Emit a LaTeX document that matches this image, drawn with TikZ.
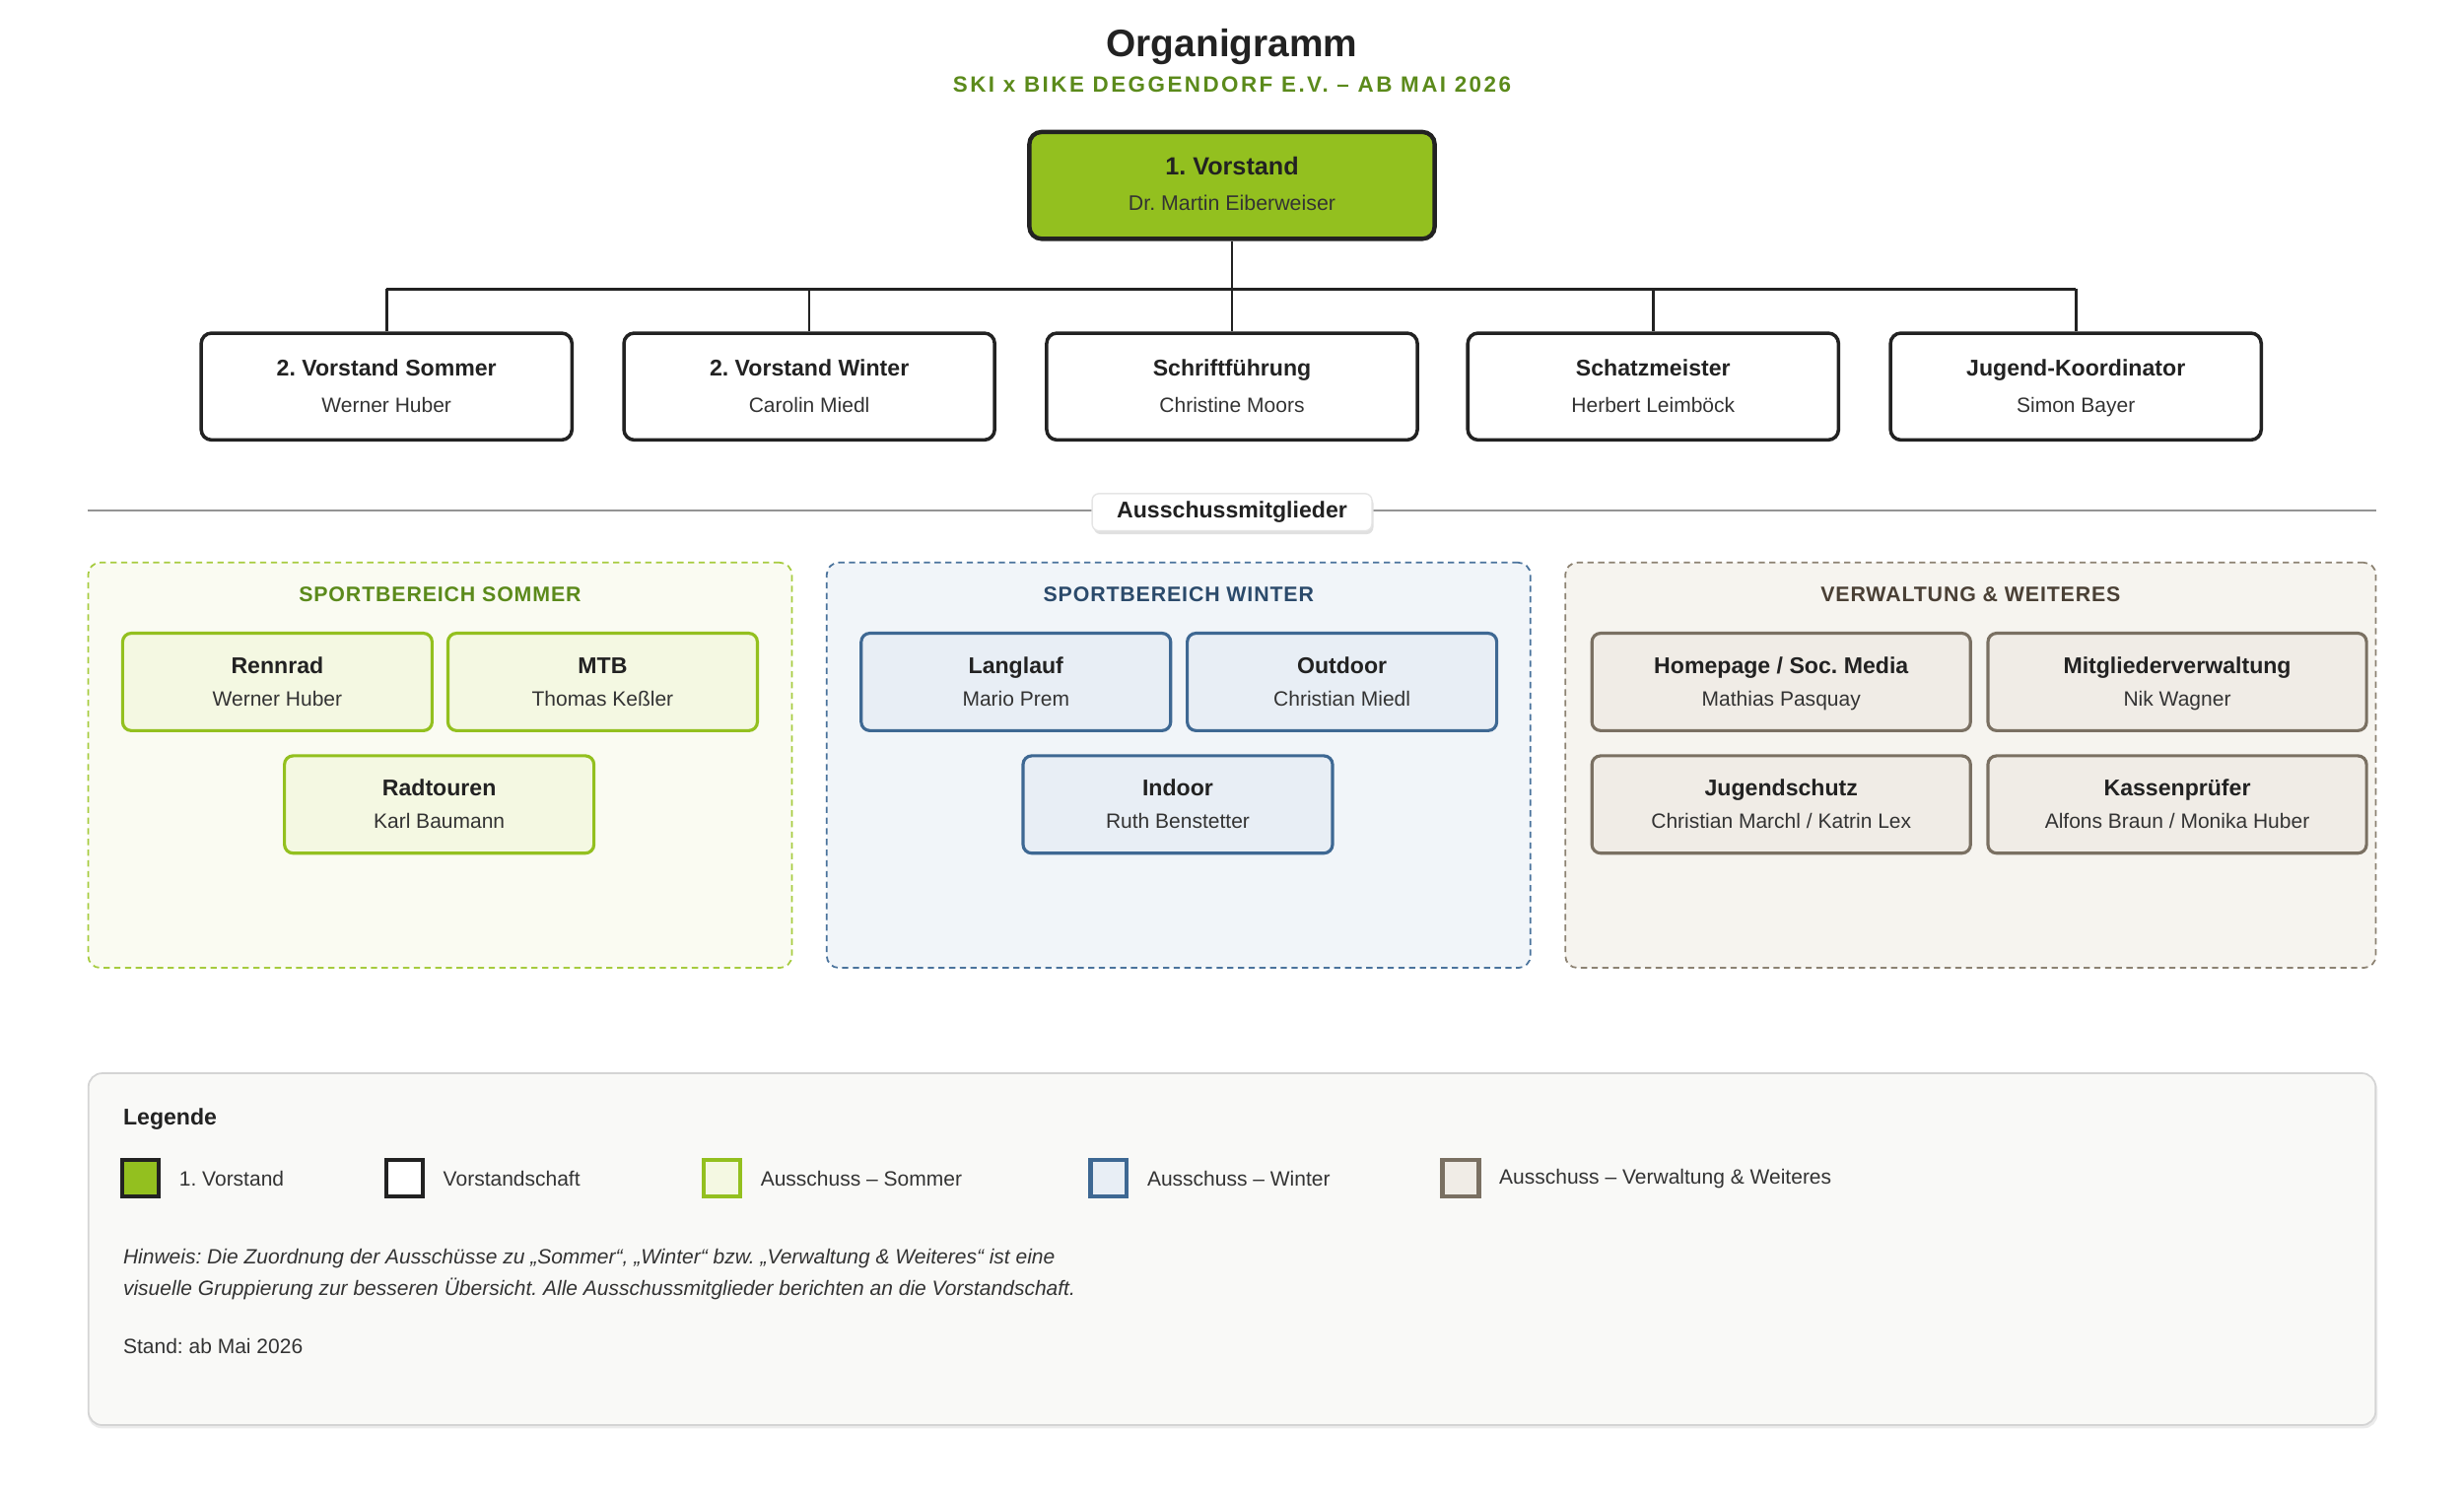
\documentclass[tikz,border=0pt]{standalone}
\usepackage{fontspec}
\setmainfont{Liberation Sans}
\newfontfamily\spacedfont[LetterSpace=11]{Liberation Sans}
\newfontfamily\headfont[LetterSpace=4]{Liberation Sans}
\usetikzlibrary{positioning}
\frenchspacing

\definecolor{vgreen}{HTML}{93C01F}
\definecolor{vdark}{HTML}{222222}
\definecolor{vtext}{HTML}{333333}
\definecolor{subgreen}{HTML}{5B8A1B}
\definecolor{sumbg}{HTML}{FAFBF2}
\definecolor{sumdash}{HTML}{A6CB3E}
\definecolor{sumfill}{HTML}{F4F8E2}
\definecolor{winbg}{HTML}{F1F5F9}
\definecolor{windash}{HTML}{4A739C}
\definecolor{winfill}{HTML}{E8EEF5}
\definecolor{winline}{HTML}{3E6893}
\definecolor{winhead}{HTML}{2B4A6B}
\definecolor{admbg}{HTML}{F6F4EF}
\definecolor{admdash}{HTML}{8C8272}
\definecolor{admfill}{HTML}{F0ECE6}
\definecolor{admline}{HTML}{7A7062}
\definecolor{admhead}{HTML}{4A4035}
\definecolor{legbg}{HTML}{F9F9F7}
\definecolor{legline}{HTML}{D4D4D4}

% one box = bold title + name
\newcommand{\amt}[2]{{\fontsize{6.6}{7}\selectfont\bfseries\color{vdark}\vphantom{Äg}#1}\\\vphantom{Äg}#2}

\begin{document}
\begin{tikzpicture}[
  x=0.016cm, y=-0.016cm,
  box/.style={rectangle, align=center, text=vtext, inner sep=0pt},
  chair/.style={box, fill=vgreen, draw=vdark, line width=1.25pt, rounded corners=3.5pt,
    minimum width=4.128cm, minimum height=1.088cm, font=\fontsize{6.1}{10.4}\selectfont},
  board/.style={box, fill=white, draw=vdark, line width=1pt, rounded corners=3pt,
    minimum width=3.776cm, minimum height=1.088cm, font=\fontsize{6}{10.4}\selectfont},
  sub/.style={box, line width=0.9pt, rounded corners=2.5pt,
    minimum width=3.152cm, minimum height=0.992cm, font=\fontsize{6}{9.4}\selectfont},
  sumbox/.style={sub, fill=sumfill, draw=vgreen},
  winbox/.style={sub, fill=winfill, draw=winline},
  admbox/.style={sub, fill=admfill, draw=admline, minimum width=3.856cm},
  grp/.style={rectangle, dashed, dash pattern=on 1.8pt off 1.3pt, line width=0.5pt,
    rounded corners=3.5pt, minimum height=4.128cm},
  grphead/.style={font=\headfont\bfseries\fontsize{6.1}{7}\selectfont},
  conn/.style={draw=vdark, line width=0.75pt},
  lgsq/.style={rectangle, minimum size=0.37cm, inner sep=0pt, line width=1.2pt},
  lgtext/.style={font=\fontsize{6}{7}\selectfont, text=vtext, inner sep=0pt, right=0.18cm of #1}
]
\useasboundingbox (0,0) rectangle (1568,952);

% ── Title ───────────────────────────────────────────────────────
\node[font=\bfseries\fontsize{11.1}{13}\selectfont, text=vdark] (title) at (784,30) {Organigramm};
\node[font=\spacedfont\bfseries\fontsize{6.4}{8}\selectfont, text=subgreen] (subtitle) at (784,54)
  {SKI x BIKE DEGGENDORF E.V. – AB MAI 2026};

% ── Vorstand ────────────────────────────────────────────────────
\node[chair] (vorstand) at (784,118) {\amt{\fontsize{7.2}{7}\selectfont 1. Vorstand}{Dr. Martin Eiberweiser}};

\node[board] (vsommer) at (246,246)  {\amt{2. Vorstand Sommer}{Werner Huber}};
\node[board] (vwinter) at (515,246)  {\amt{2. Vorstand Winter}{Carolin Miedl}};
\node[board] (schrift) at (784,246)  {\amt{Schriftführung}{Christine Moors}};
\node[board] (schatz)  at (1052,246) {\amt{Schatzmeister}{Herbert Leimböck}};
\node[board] (jugend)  at (1321,246) {\amt{Jugend-Koordinator}{Simon Bayer}};

% connectors
\coordinate (bus) at (784,184);
\draw[conn] (vorstand.south) -- (bus);
\draw[conn] (vsommer.north |- bus) -- (jugend.north |- bus);
\foreach \n in {vsommer,vwinter,schrift,schatz,jugend}
  \draw[conn] (\n.north |- bus) -- (\n.north);

% ── Ausschuss separator ─────────────────────────────────────────
\draw[draw=black!42, line width=0.7pt] (56,325) -- (1512,325);
\fill[black!12, rounded corners=2pt] (696,316) rectangle (874,340);   % shadow
\node[box, fill=white, draw=black!10, line width=0.4pt, rounded corners=2pt,
  minimum width=2.85cm, minimum height=0.38cm,
  font=\bfseries\fontsize{6.6}{7}\selectfont, text=vdark] (ausschuss) at (784,326) {Ausschussmitglieder};

% ── Sportbereich Sommer ─────────────────────────────────────────
\node[grp, draw=sumdash, fill=sumbg, minimum width=7.168cm] (gsommer) at (280,487) {};
\node[grphead, text=subgreen] (hsommer) at (280,378) {SPORTBEREICH SOMMER};
\node[sumbox] (rennrad)   at (176.5,434) {\amt{Rennrad}{Werner Huber}};
\node[sumbox] (mtb)       at (383.5,434) {\amt{MTB}{Thomas Keßler}};
\node[sumbox] (radtouren) at (279.5,512) {\amt{Radtouren}{Karl Baumann}};

% ── Sportbereich Winter ─────────────────────────────────────────
\node[grp, draw=windash, fill=winbg, minimum width=7.168cm] (gwinter) at (750,487) {};
\node[grphead, text=winhead] (hwinter) at (750,378) {SPORTBEREICH WINTER};
\node[winbox] (langlauf) at (646.5,434) {\amt{Langlauf}{Mario Prem}};
\node[winbox] (outdoor)  at (854,434)   {\amt{Outdoor}{Christian Miedl}};
\node[winbox] (indoor)   at (749.5,512) {\amt{Indoor}{Ruth Benstetter}};

% ── Verwaltung & Weiteres ───────────────────────────────────────
\node[grp, draw=admdash, fill=admbg, minimum width=8.256cm] (gverw) at (1254,487) {};
\node[grphead, text=admhead] (hverw) at (1254,378) {VERWALTUNG \& WEITERES};
\node[admbox] (homepage) at (1133.5,434) {\amt{Homepage / Soc. Media}{Mathias Pasquay}};
\node[admbox] (mitglied) at (1385.5,434) {\amt{Mitgliederverwaltung}{Nik Wagner}};
\node[admbox] (jschutz)  at (1133.5,512) {\amt{Jugendschutz}{Christian Marchl / Katrin Lex}};
\node[admbox] (kasse)    at (1385.5,512) {\amt{Kassenprüfer}{Alfons Braun / Monika Huber}};

% ── Legende ─────────────────────────────────────────────────────
\fill[black!8, rounded corners=4pt] (56,685) rectangle (1513,909);   % shadow
\node[rectangle, fill=legbg, draw=legline, line width=0.5pt, rounded corners=4pt,
  minimum width=23.296cm, minimum height=3.584cm, inner sep=0pt] (legende) at (784,795) {};
\node[anchor=west, inner sep=0pt, font=\bfseries\fontsize{6.6}{7}\selectfont, text=vdark] (lghead) at (78,712) {Legende};

\node[lgsq, fill=vgreen, draw=vdark]    (lg1) at (89.5,750)  {};
\node[lgsq, fill=white, draw=vdark]     (lg2) at (257.5,750) {};
\node[lgsq, fill=sumfill, draw=vgreen]  (lg3) at (459.5,750) {};
\node[lgsq, fill=winfill, draw=winline] (lg4) at (705.5,750) {};
\node[lgsq, fill=admfill, draw=admline] (lg5) at (929.5,750) {};
\node[lgtext=lg1] (lgt1) {1. Vorstand};
\node[lgtext=lg2] (lgt2) {Vorstandschaft};
\node[lgtext=lg3] (lgt3) {Ausschuss – Sommer};
\node[lgtext=lg4] (lgt4) {Ausschuss – Winter};
\node[lgtext=lg5] (lgt5) {Ausschuss – Verwaltung \& Weiteres};

\node[anchor=west, align=left, inner sep=0pt, text=vtext,
  font=\itshape\fontsize{6}{9.1}\selectfont] (hinweis) at (78,811)
  {Hinweis: Die Zuordnung der Ausschüsse zu „Sommer“, „Winter“ bzw. „Verwaltung \& Weiteres“ ist eine\\
   visuelle Gruppierung zur besseren Übersicht. Alle Ausschussmitglieder berichten an die Vorstandschaft.};
\node[anchor=west, inner sep=0pt, text=vtext, font=\fontsize{6}{7}\selectfont] (stand) at (78,857)
  {Stand: ab Mai 2026};

\end{tikzpicture}
\end{document}
